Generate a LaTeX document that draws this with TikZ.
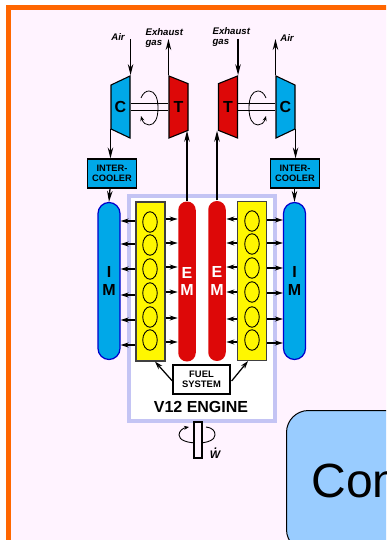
\documentclass[tikz,border=0pt]{standalone}
\usepackage{fontspec}
\setmainfont{Liberation Sans}
\usetikzlibrary{arrows.meta,shapes.geometric}
\definecolor{framepink}{HTML}{FFF3FF}
\definecolor{frameorange}{HTML}{FF6600}
\definecolor{hatchblue}{HTML}{C4C4F4}
\definecolor{compblue}{HTML}{00A8E8}
\definecolor{turbred}{HTML}{DD0808}
\definecolor{bankyellow}{HTML}{FFF700}
\definecolor{conblue}{HTML}{99CCFF}
\tikzset{
  >={Stealth[length=8pt,width=5pt]},
  bigtip/.style={-{Stealth[length=11pt,width=5.5pt]}},
  turbo/.style={trapezium, draw, line width=1.1pt, trapezium left angle=52, trapezium right angle=52, trapezium stretches body, minimum width=62pt, minimum height=19pt, inner sep=0pt, font=\bfseries\fontsize{16}{16}\selectfont},
  cooler/.style={rectangle, draw, line width=1.1pt, fill=compblue, minimum width=49pt, minimum height=29pt, inner sep=0pt, align=center, font=\bfseries\fontsize{9.3}{10}\selectfont},
  manifold/.style={rectangle, rounded corners=11pt, minimum width=22pt, minimum height=157pt, inner sep=0pt, align=center, font=\bfseries\fontsize{16}{17.5}\selectfont},
  bank/.style={rectangle, draw=black!75, line width=1.1pt, fill=bankyellow, minimum width=29pt, minimum height=159pt},
  cyl/.style={ellipse, draw, line width=0.9pt, minimum width=14.5pt, minimum height=20.5pt, inner sep=0pt},
  tag/.style={align=left, font=\bfseries\itshape\fontsize{9.6}{10}\selectfont, inner sep=0pt}
}
\begin{document}
\begin{tikzpicture}[x=1pt, y=-1pt, line width=1.25pt]
\useasboundingbox (0,0) rectangle (386,540);
\clip (0,0) rectangle (386,540);
\fill [white] (0,0) rectangle (386,540);
\draw [frameorange, fill=framepink, line width=5pt] (8.5,7.5) rectangle (420,600);

% Engine
\node (engine) [rectangle, draw=hatchblue, fill=white, line width=4pt, minimum width=146pt, minimum height=225pt, inner sep=0pt] at (202,308) {};
\node (engine_name) [font=\bfseries\fontsize{16}{16}\selectfont, inner sep=0pt] at (201,407) {V12 ENGINE};

% Turbochargers
\node (comp_l) [turbo, fill=compblue, shape border rotate=90] at (120.5,107) {C};
\node (turb_l) [turbo, fill=turbred, shape border rotate=270] at (178.5,107) {T};
\node (turb_r) [turbo, fill=turbred, shape border rotate=90] at (228,107) {T};
\node (comp_r) [turbo, fill=compblue, shape border rotate=270] at (285.5,107) {C};

% Intercoolers
\node (cooler_l) [cooler] at (112,173.5) {INTER-\\COOLER};
\node (cooler_r) [cooler] at (295,173.5) {INTER-\\COOLER};

% Intake manifolds
\node (im_l) [manifold, draw=blue!80!black, fill=compblue] at (109,281) {I\\M};
\node (im_r) [manifold, draw=blue!80!black, fill=compblue] at (294.5,281) {I\\M};

% Exhaust manifolds
\node (em_l) [manifold, fill=turbred, text=white, minimum width=17.5pt, minimum height=160pt, rounded corners=8.7pt] at (187,281.5) {E\\M};
\node (em_r) [manifold, fill=turbred, text=white, minimum width=17.5pt, minimum height=160pt, rounded corners=8.7pt] at (217,281) {E\\M};

% Cylinder banks
\node (bank_l) [bank] at (150.5,281.5) {};
\node (bank_r) [bank] at (252,281) {};
\foreach \n/\y in {1/222,2/245,3/269,4/293,5/317,6/340} \node (cyl_l\n) [cyl] at (150,\y) {};
\foreach \n/\y in {1/221,2/244,3/268,4/292,5/317,6/340} \node (cyl_r\n) [cyl] at (252,\y) {};

% Fuel system
\node (fuel) [rectangle, draw, fill=white, minimum width=57pt, minimum height=29pt, inner sep=0pt, align=center, font=\bfseries\fontsize{9.4}{10}\selectfont] at (201.5,379.5) {FUEL\\SYSTEM};

% Labels at the top
\node (air_l) [tag] at (118,37) {Air};
\node (air_r) [tag] at (287,38) {Air};
\node (gas_l) [tag, anchor=west] at (145,38) {Exhaust\\gas};
\node (gas_r) [tag, anchor=west] at (212,37) {Exhaust\\gas};
\coordinate (in_l) at (comp_l.bottom right corner |- 0,39);
\coordinate (out_l) at (turb_l.bottom left corner |- 0,39);
\coordinate (in_r) at (turb_r.bottom right corner |- 0,39);
\coordinate (out_r) at (comp_r.bottom left corner |- 0,39);

% Connectors
\draw [bigtip] (in_l) -- (comp_l.bottom right corner);
\draw [bigtip] (turb_l.bottom left corner) -- (out_l);
\draw [bigtip] (in_r) -- (turb_r.bottom right corner);
\draw [bigtip] (comp_r.bottom left corner) -- (out_r);
\draw [bigtip] (comp_l.top left corner) -- (cooler_l.north -| comp_l.top left corner);
\draw [bigtip] (comp_r.top right corner) -- (cooler_r.north -| comp_r.top right corner);
\draw [bigtip] (cooler_l.south -| im_l.north) ++(1,0) -- (im_l.north);
\draw [bigtip] (cooler_r.south -| im_r.north) -- (im_r.north);
\draw [bigtip] (em_l.north) -- (em_l.north |- turb_l.top right corner);
\draw [bigtip] (em_r.north) -- (em_r.north |- turb_r.top left corner);
\draw [->] (fuel.west |- 0,381) -- (bank_l.south -| 155,0);
\draw [->] (fuel.east |- 0,381) ++(1,0) -- (bank_r.south -| 248,0);
\foreach \y in {221,244,269,295,320,345} \draw [->] (bank_l.west |- 0,\y) -- (im_l.east |- 0,\y);
\foreach \y in {219,243,267,292,318,342} \draw [->] (bank_l.east |- 0,\y) -- (em_l.west |- 0,\y);
\foreach \y in {219,243,267,292,319,342} \draw [->] (bank_r.west |- 0,\y) -- (em_r.east |- 0,\y);
\foreach \y in {220,243,268,293,319,343} \draw [->] (bank_r.east |- 0,\y) -- (im_r.west |- 0,\y);

% Turbo shafts
\draw [line width=1pt] (comp_l.east |- 0,104) -- (turb_l.west |- 0,104);
\draw [line width=1pt] (comp_l.east |- 0,111) -- (turb_l.west |- 0,111);
\draw [line width=1pt] (turb_r.east |- 0,104) -- (comp_r.west |- 0,104);
\draw [line width=1pt] (turb_r.east |- 0,111) -- (comp_r.west |- 0,111);
\draw [-{Stealth[length=5pt,width=4pt]}, line width=0.8pt] (141,98) .. controls (143,93) and (146,91) .. (149,91) .. controls (155,91) and (158,98) .. (158,108) .. controls (158,118) and (155,125) .. (149,125) .. controls (146,125) and (143,123) .. (141,116);
\draw [-{Stealth[length=5pt,width=4pt]}, line width=0.8pt] (266,98) .. controls (264,93) and (261,91) .. (258,91) .. controls (252,91) and (249,98) .. (249,108) .. controls (249,118) and (252,125) .. (258,125) .. controls (261,125) and (264,123) .. (266,116);

% Output shaft
\draw [-{Stealth[length=5pt,width=4pt]}, line width=0.9pt] (206,427) .. controls (213,428) and (215,431) .. (215,435) .. controls (215,440) and (207,443) .. (198,443) .. controls (187,443) and (179,440) .. (179,435) .. controls (179,431) and (183,428) .. (189,427);
\node (shaft) [rectangle, draw, fill=framepink, minimum width=8pt, minimum height=36pt, inner sep=0pt] at (198,440) {};
\node (power) [anchor=base, inner sep=0pt, font=\bfseries\itshape\fontsize{11}{11}\selectfont] at (215,458) {\rlap{\hspace{4.5pt}\raisebox{9pt}{.}}W};

% Box at the corner
\node (con_box) [rectangle, draw, fill=conblue, rounded corners=22pt, anchor=north west, minimum width=200pt, minimum height=141pt, inner xsep=23pt, inner ysep=0pt, line width=1pt, text width=150pt, align=left, font=\fontsize{48}{48}\selectfont] at (286,410) {Con};
\end{tikzpicture}
\end{document}
